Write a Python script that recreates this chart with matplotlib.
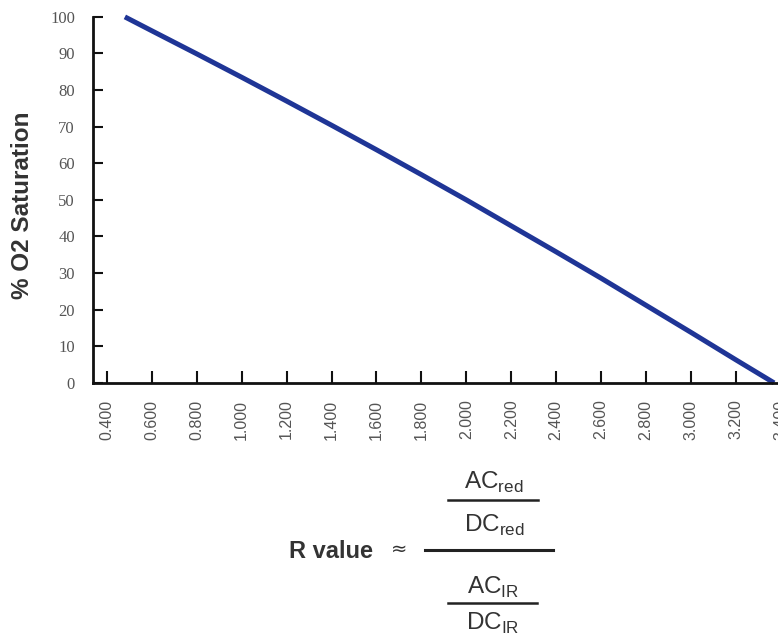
import matplotlib
matplotlib.use("Agg")
import matplotlib.pyplot as plt
from matplotlib.lines import Line2D

# Curva R -> % saturación de O2
r_valor = [0.48, 0.60, 0.80, 1.00, 1.20, 1.40, 1.60, 1.80, 2.00,
           2.20, 2.40, 2.60, 2.80, 3.00, 3.20, 3.37]
saturacion = [100.0, 96.2, 89.9, 83.5, 77.0, 70.4, 63.7, 56.9, 50.0,
              42.9, 35.8, 28.6, 21.2, 13.8, 6.3, 0.0]

x_ticks = [0.4, 0.6, 0.8, 1.0, 1.2, 1.4, 1.6, 1.8, 2.0, 2.2, 2.4,
           2.6, 2.8, 3.0, 3.2, 3.4]
y_ticks = [0, 10, 20, 30, 40, 50, 60, 70, 80, 90, 100]

plt.rcParams['font.family'] = ['Liberation Sans', 'DejaVu Sans']
plt.rcParams['mathtext.fontset'] = 'custom'
plt.rcParams['mathtext.rm'] = 'Liberation Sans'

fig = plt.figure(figsize=(7.78, 6.35), dpi=100)
ax = fig.add_axes([0.1195, 0.397, 0.896, 0.5764])

ax.plot(r_valor, saturacion, color='#1f3596', linewidth=3.6,
        solid_capstyle='butt', clip_on=False)

ax.set_xlim(0.338, 3.441)
ax.set_ylim(0, 100)

ax.spines['top'].set_visible(False)
ax.spines['right'].set_visible(False)
ax.spines['left'].set_linewidth(2.0)
ax.spines['bottom'].set_linewidth(2.0)
ax.spines['left'].set_color('#111111')
ax.spines['bottom'].set_color('#111111')

ax.set_xticks(x_ticks)
ax.set_xticklabels([f"{v:.3f}" for v in x_ticks], rotation=90,
                   fontsize=11.5, color='#555555')
ax.set_yticks(y_ticks)
ax.set_yticklabels([str(v) for v in y_ticks], fontsize=12,
                   color='#555555', family='Liberation Serif')

ax.tick_params(axis='x', direction='in', length=8.5, width=1.5,
               pad=12, color='#111111')
ax.tick_params(axis='y', direction='in', length=7.5, width=1.5,
               pad=13, color='#111111')
for lbl in ax.get_xticklabels():
    lbl.set_clip_on(False)

# Etiqueta del eje Y
fig.text(23 / 778, 1 - 205 / 635, '% O2 Saturation', fontsize=17.5,
         fontweight='bold', color='#333333', rotation=90,
         ha='center', va='center')

# Fórmula del valor R debajo del eje
col = '#333333'
fig.text(331 / 778, 1 - 552 / 635, 'R value', fontsize=17,
         fontweight='bold', color=col, ha='center', va='center')
fig.text(399 / 778, 1 - 549 / 635, '\u2248', fontsize=14,
         color=col, ha='center', va='center', family='DejaVu Sans')

fig.text(494 / 778, 1 - 482 / 635, r'AC$_{\mathregular{red}}$',
         fontsize=17.5, color=col, ha='center', va='center')
fig.text(494 / 778, 1 - 525 / 635, r'DC$_{\mathregular{red}}$',
         fontsize=17.5, color=col, ha='center', va='center')
fig.text(493 / 778, 1 - 587 / 635, r'AC$_{\mathregular{IR}}$',
         fontsize=17.5, color=col, ha='center', va='center')
fig.text(493 / 778, 1 - 623 / 635, r'DC$_{\mathregular{IR}}$',
         fontsize=17.5, color=col, ha='center', va='center')

for x0, x1, yy, lw in [(448, 538, 500, 1.8), (425, 553, 550, 2.2),
                       (448, 537, 603, 1.8)]:
    fig.add_artist(Line2D([x0 / 778, x1 / 778], [1 - yy / 635, 1 - yy / 635],
                          color='#222222', linewidth=lw,
                          transform=fig.transFigure))

fig.savefig('out.png', dpi=100)
